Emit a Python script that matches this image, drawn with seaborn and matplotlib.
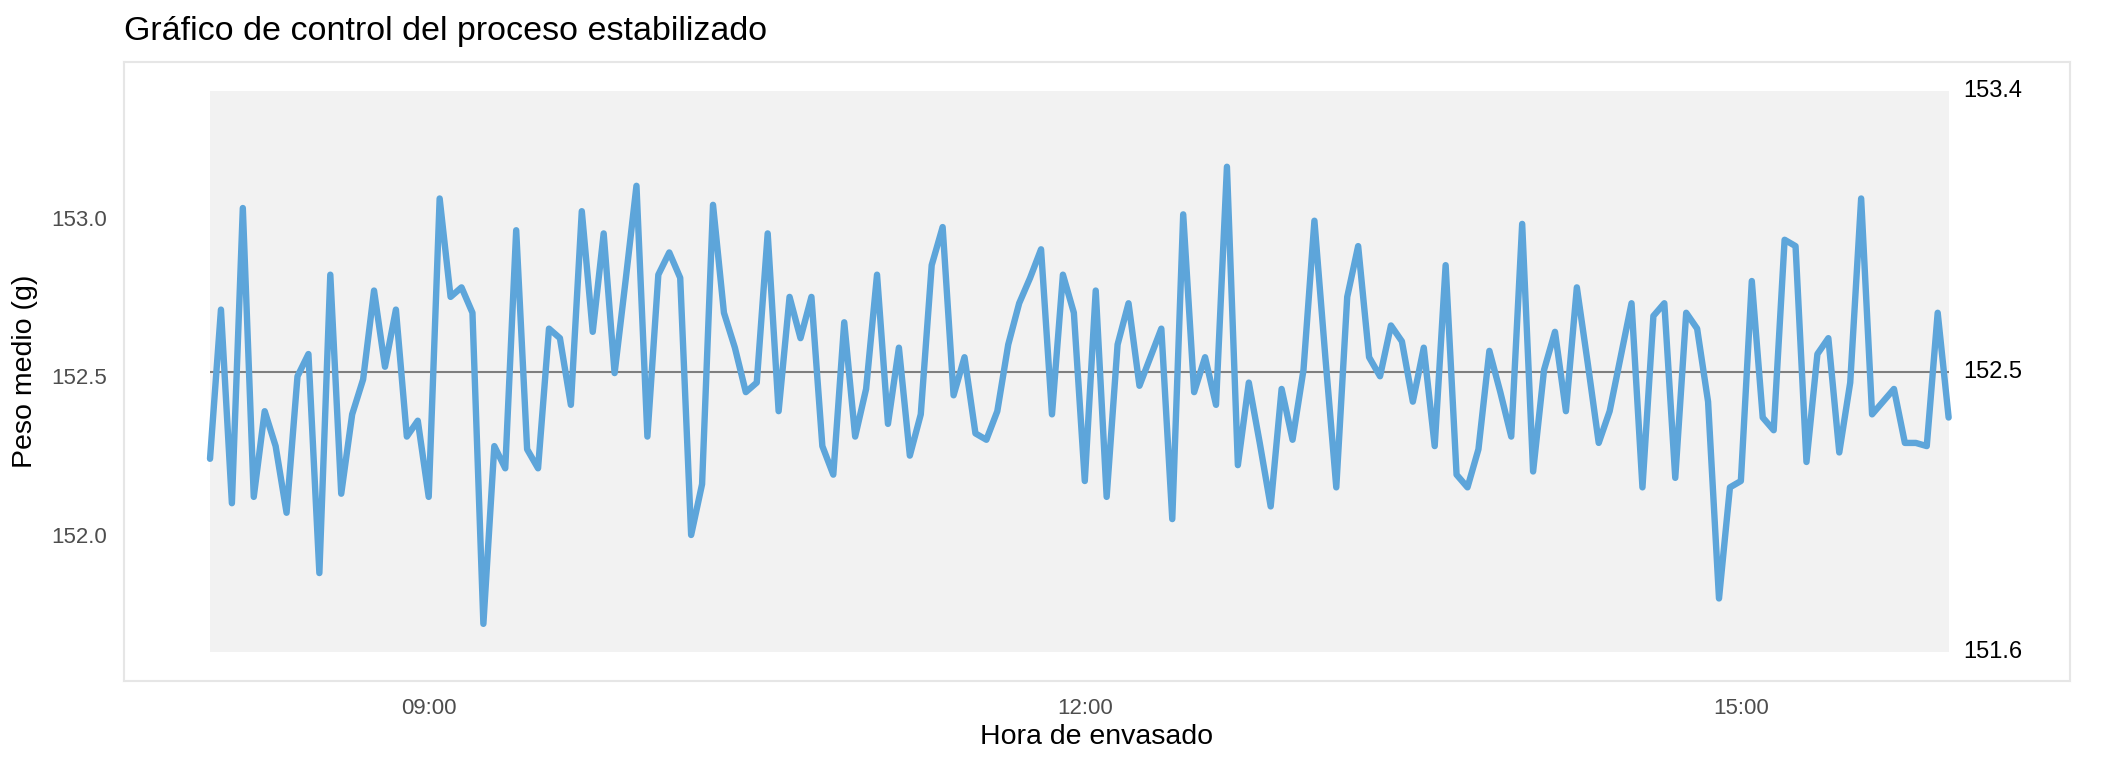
import matplotlib
matplotlib.use("Agg")
import matplotlib.pyplot as plt
import seaborn as sns
import pandas as pd

# mean weight per sample, one sample every 3 minutes from 08:00
peso = [152.24, 152.71, 152.10, 153.03, 152.12, 152.39, 152.28, 152.07, 152.50, 152.57,
        151.88, 152.82, 152.13, 152.38, 152.49, 152.77, 152.53, 152.71, 152.31, 152.36,
        152.12, 153.06, 152.75, 152.78, 152.70, 151.72, 152.28, 152.21, 152.96, 152.27,
        152.21, 152.65, 152.62, 152.41, 153.02, 152.64, 152.95, 152.51, 152.80, 153.10,
        152.31, 152.82, 152.89, 152.81, 152.00, 152.16, 153.04, 152.70, 152.59, 152.45,
        152.48, 152.95, 152.39, 152.75, 152.62, 152.75, 152.28, 152.19, 152.67, 152.31,
        152.46, 152.82, 152.35, 152.59, 152.25, 152.38, 152.85, 152.97, 152.44, 152.56,
        152.32, 152.30, 152.39, 152.60, 152.73, 152.81, 152.90, 152.38, 152.82, 152.70,
        152.17, 152.77, 152.12, 152.60, 152.73, 152.47, 152.56, 152.65, 152.05, 153.01,
        152.45, 152.56, 152.41, 153.16, 152.22, 152.48, 152.29, 152.09, 152.46, 152.30,
        152.52, 152.99, 152.56, 152.15, 152.75, 152.91, 152.56, 152.50, 152.66, 152.61,
        152.42, 152.59, 152.28, 152.85, 152.19, 152.15, 152.27, 152.58, 152.45, 152.31,
        152.98, 152.20, 152.52, 152.64, 152.39, 152.78, 152.54, 152.29, 152.39, 152.56,
        152.73, 152.15, 152.69, 152.73, 152.18, 152.70, 152.65, 152.42, 151.80, 152.15,
        152.17, 152.80, 152.37, 152.33, 152.93, 152.91, 152.23, 152.57, 152.62, 152.26,
        152.48, 153.06, 152.38, 152.42, 152.46, 152.29, 152.29, 152.28, 152.70, 152.37]

# minutes since 08:00
minutos = list(range(0, 3 * len(peso), 3))

# control limits
lc = 152.513
lcs = 153.40
lci = 151.63

ticks_min = [60, 240, 420]
ticks_lab = ["09:00", "12:00", "15:00"]

df = pd.DataFrame({"minuto": minutos, "peso": peso})

sns.set_style("white")
plt.rcParams["font.family"] = ["Liberation Sans", "DejaVu Sans"]

fig = plt.figure(figsize=(21.12, 7.68), dpi=100)
ax = fig.add_axes([124 / 2112, 1 - 681 / 768, (2070 - 124) / 2112, (681 - 62) / 768])

# stable zone between the limits
ax.fill_between([minutos[0], minutos[-1]], lci, lcs, color="#F2F2F2", linewidth=0, zorder=0)
ax.hlines(lc, minutos[0], minutos[-1], color="#7F7F7F", linewidth=1.5, zorder=1)

sns.lineplot(data=df, x="minuto", y="peso", color="#5DA5DA", linewidth=4.6, ax=ax, zorder=2)

for v in [lcs, lc, lci]:
    ax.text(minutos[-1] + 4, v, f"{v:.1f}", ha="left", va="center", fontsize=17, color="black")

ax.set_xlim(-23.6, 510.3)
ax.set_ylim(151.54, 153.49)
ax.set_xticks(ticks_min)
ax.set_xticklabels(ticks_lab)
ax.set_yticks([152.0, 152.5, 153.0])
ax.set_yticklabels(["152.0", "152.5", "153.0"])
ax.tick_params(axis="both", length=7, width=1.3, color="#CCCCCC", labelcolor="#4D4D4D", labelsize=16, pad=5)

for s in ax.spines.values():
    s.set_color("#E6E6E6")
    s.set_linewidth(1.5)

ax.set_xlabel("Hora de envasado", fontsize=20.5, color="black", labelpad=4)
ax.set_ylabel("Peso medio (g)", fontsize=20.5, color="black", labelpad=10)

fig.text(124 / 2112, 1 - 40 / 768, "Gráfico de control del proceso estabilizado",
         fontsize=24.5, color="black", ha="left", va="baseline")

fig.savefig("out.png", dpi=100)
